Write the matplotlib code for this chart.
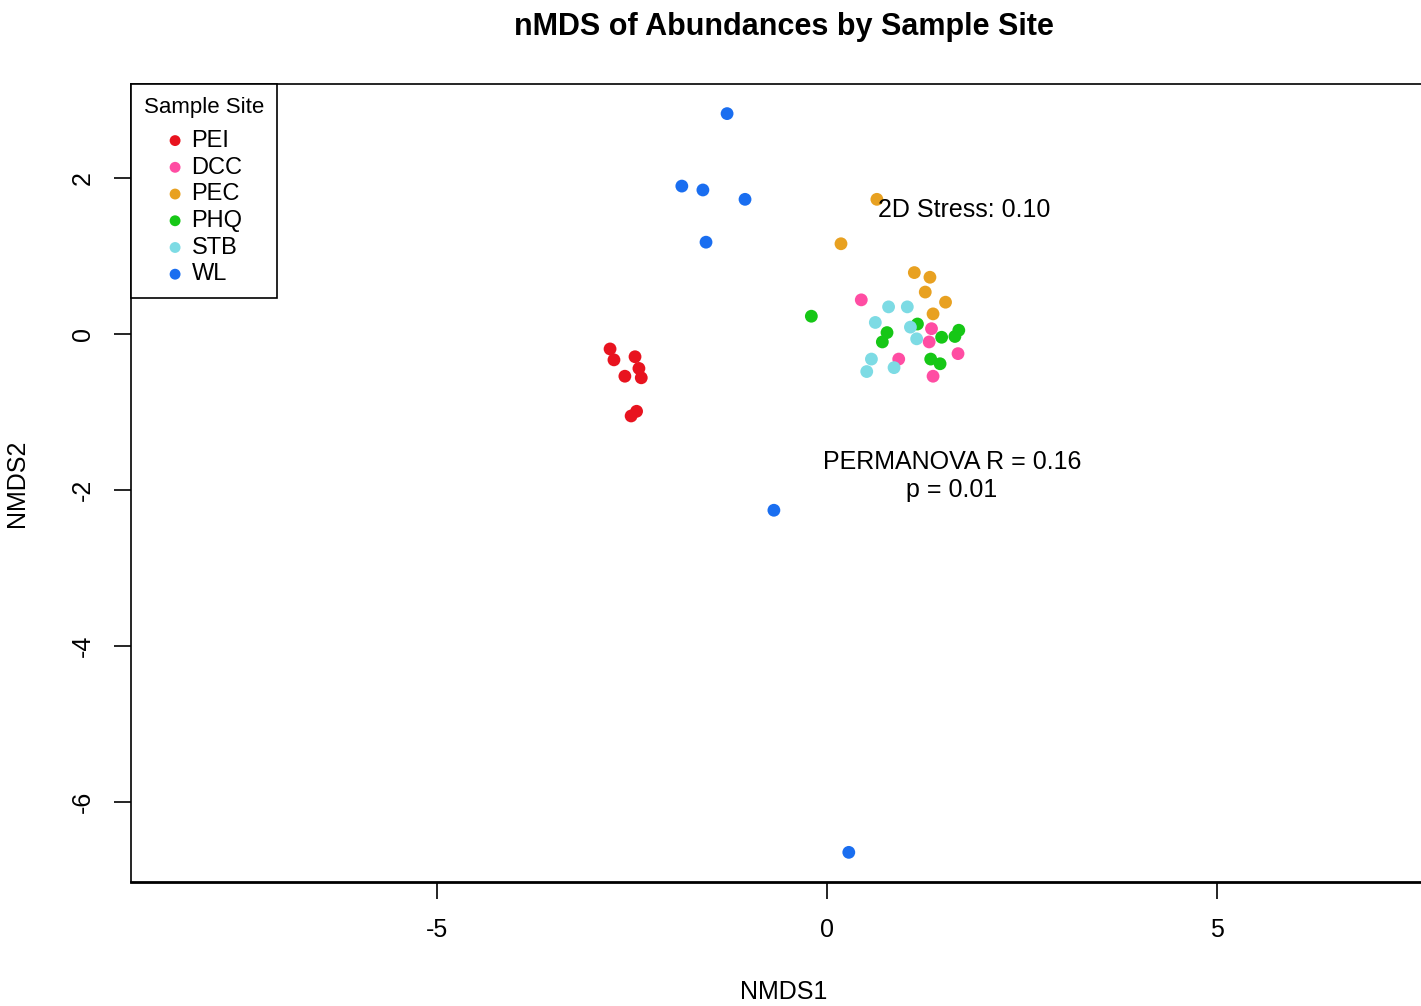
import numpy as np
import matplotlib.pyplot as plt

plt.rcParams['font.family'] = ['Liberation Sans', 'DejaVu Sans']
plt.rcParams['axes.unicode_minus'] = False

# site scores
sites = ['PEI', 'DCC', 'PEC', 'PHQ', 'STB', 'WL']
colors = ['#e8131f', '#ff4da3', '#e8a121', '#16c716', '#7ddbe4', '#1a6ef0']

pei_x = [-2.78, -2.73, -2.46, -2.41, -2.38, -2.59, -2.51, -2.44]
pei_y = [-0.19, -0.33, -0.29, -0.44, -0.56, -0.54, -1.05, -0.99]

dcc_x = [0.44, 1.34, 1.31, 1.68, 0.92, 1.36]
dcc_y = [0.44, 0.07, -0.10, -0.25, -0.32, -0.54]

pec_x = [0.64, 0.18, 1.12, 1.32, 1.26, 1.52, 1.36]
pec_y = [1.73, 1.16, 0.79, 0.73, 0.54, 0.41, 0.26]

phq_x = [-0.20, 1.16, 0.77, 0.71, 1.47, 1.69, 1.64, 1.33, 1.45]
phq_y = [0.23, 0.13, 0.02, -0.10, -0.04, 0.05, -0.03, -0.32, -0.38]

stb_x = [0.79, 1.03, 0.62, 1.07, 1.15, 0.57, 0.86, 0.51]
stb_y = [0.35, 0.35, 0.15, 0.09, -0.06, -0.32, -0.43, -0.48]

wl_x = [-1.28, -1.86, -1.59, -1.05, -1.55, -0.68, 0.28]
wl_y = [2.83, 1.90, 1.85, 1.73, 1.18, -2.26, -6.65]

xs = [pei_x, dcc_x, pec_x, phq_x, stb_x, wl_x]
ys = [pei_y, dcc_y, pec_y, phq_y, stb_y, wl_y]

fig = plt.figure(figsize=(14.21, 10.06), dpi=100)
ax = fig.add_axes([0.0922, 0.1233, 0.9191, 0.7932])

for name, c, x, y in zip(sites, colors, xs, ys):
    ax.scatter(x, y, s=85, color=c, edgecolors='none', label=name, zorder=3)

ax.set_xlim(-8.92, 7.82)
ax.set_ylim(-7.03, 3.21)
ax.set_xticks([-5, 0, 5])
ax.set_yticks([2, 0, -2, -4, -6])
ax.tick_params(axis='both', direction='out', length=12, width=1.2, labelsize=18, pad=14)
for lab in ax.get_yticklabels():
    lab.set_rotation(90)
    lab.set_va('center')
for sp in ax.spines.values():
    sp.set_linewidth(1.2)
ax.spines['bottom'].set_linewidth(2)

ax.set_title('nMDS of Abundances by Sample Site', fontsize=22, fontweight='bold', pad=35)
ax.set_xlabel('NMDS1', fontsize=18, labelpad=27)
ax.set_ylabel('NMDS2', fontsize=18, labelpad=30)

ax.text(1.76, 1.59, '2D Stress: 0.10', fontsize=18, ha='center', va='center')
ax.text(1.60, -1.82, 'PERMANOVA R = 0.16\np = 0.01', fontsize=18, ha='center', va='center',
        linespacing=1.2)

leg = ax.legend(title='Sample Site', loc='upper left', borderaxespad=0, fancybox=False,
                edgecolor='black', fontsize=17, title_fontsize=16, handletextpad=0.3,
                labelspacing=0.2, borderpad=0.55, markerscale=0.85, framealpha=1,
                handlelength=0.8)
leg._legend_box.sep = 8.5
leg.get_frame().set_linewidth(1.2)

fig.savefig('out.png', dpi=100)
